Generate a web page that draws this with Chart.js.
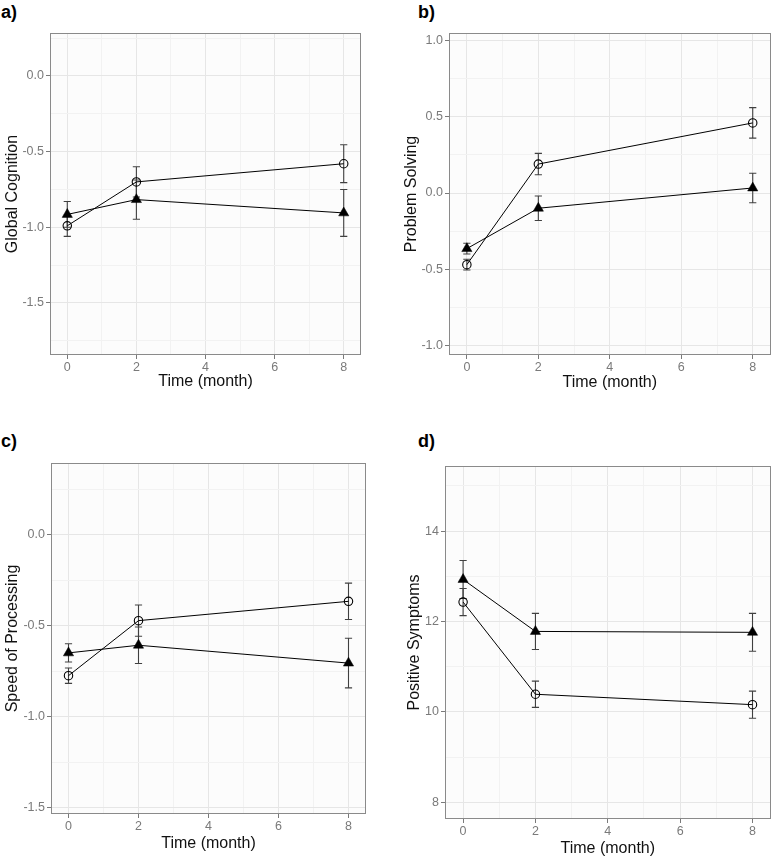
<!DOCTYPE html>
<html>
<head>
<meta charset="utf-8">
<script src="https://cdn.jsdelivr.net/npm/chart.js@4.4.1/dist/chart.umd.min.js"></script>
<style>
  html, body { margin: 0; padding: 0; background: #ffffff; }
  #wrap { position: relative; width: 777px; height: 858px; overflow: hidden; background: #ffffff; }
  canvas { position: absolute; }
  .lab { position: absolute; font-family: "Liberation Sans", Arial, sans-serif; font-weight: bold; font-size: 18px; line-height: 18px; color: #000; }
</style>
</head>
<body>
<div id="wrap">
  <div class="lab" style="left:1px; top:3px;">a)</div>
  <div class="lab" style="left:418px; top:3px;">b)</div>
  <div class="lab" style="left:1px; top:432px;">c)</div>
  <div class="lab" style="left:418px; top:432px;">d)</div>
  <canvas id="ca" width="390" height="410" style="left:0px; top:0px;"></canvas>
  <canvas id="cb" width="387" height="410" style="left:390px; top:0px;"></canvas>
  <canvas id="cc" width="390" height="438" style="left:0px; top:420px;"></canvas>
  <canvas id="cd" width="387" height="438" style="left:390px; top:420px;"></canvas>
</div>
<script>
// ---------- data ----------
const months = [0, 2, 8];
const xTicks = [0, 2, 4, 6, 8];
const xTitle = "Time (month)";

// a) Global Cognition
const globalCircleMean = [-0.99, -0.70, -0.58];
const globalCircleSE   = [0.07, 0.10, 0.125];
const globalTriMean    = [-0.915, -0.817, -0.905];
const globalTriSE      = [0.085, 0.13, 0.155];
const globalYTicks     = [-1.5, -1.0, -0.5, 0.0];

// b) Problem Solving
const problemCircleMean = [-0.47, 0.19, 0.46];
const problemCircleSE   = [0.035, 0.07, 0.10];
const problemTriMean    = [-0.365, -0.10, 0.033];
const problemTriSE      = [0.035, 0.08, 0.097];
const problemYTicks     = [-1.0, -0.5, 0.0, 0.5, 1.0];

// c) Speed of Processing
const speedCircleMean = [-0.774, -0.472, -0.366];
const speedCircleSE   = [0.042, 0.086, 0.10];
const speedTriMean    = [-0.649, -0.607, -0.705];
const speedTriSE      = [0.05, 0.10, 0.136];
const speedYTicks     = [-1.5, -1.0, -0.5, 0.0];

// d) Positive Symptoms
const symptomCircleMean = [12.43, 10.39, 10.16];
const symptomCircleSE   = [0.30, 0.29, 0.30];
const symptomTriMean    = [12.93, 11.78, 11.76];
const symptomTriSE      = [0.42, 0.40, 0.42];
const symptomYTicks     = [8, 10, 12, 14];

// ---------- helpers ----------
const FONT = '"Liberation Sans", Arial, sans-serif';
const toPts = (xs, ys) => xs.map((x, i) => ({x: x, y: ys[i]}));

function withMinors(majors, min, max) {
  const half = (majors[1] - majors[0]) / 2;
  const out = [];
  const start = Math.ceil((min - 1e-9) / half);
  const end = Math.floor((max + 1e-9) / half);
  for (let k = start; k <= end; k++) out.push(+(k * half).toFixed(6));
  return out;
}
function isIn(arr, v) { return arr.some(a => Math.abs(a - v) < 1e-6); }

const panelPlugin = {
  id: 'panelDecor',
  beforeDraw(chart) {
    const {ctx, chartArea: a} = chart;
    ctx.save();
    ctx.fillStyle = '#fcfcfc';
    ctx.fillRect(a.left, a.top, a.right - a.left, a.bottom - a.top);
    ctx.restore();
  },
  beforeDatasetsDraw(chart) {
    const {ctx, scales: {x, y}} = chart;
    ctx.save();
    ctx.strokeStyle = '#404040';
    ctx.lineWidth = 1.1;
    chart.data.datasets.forEach(ds => {
      ds.data.forEach((p, i) => {
        const e = ds.errors[i];
        const px = x.getPixelForValue(p.x);
        const y1 = y.getPixelForValue(p.y - e);
        const y2 = y.getPixelForValue(p.y + e);
        const w = 3.6;
        ctx.beginPath();
        ctx.moveTo(px, y1); ctx.lineTo(px, y2);
        ctx.moveTo(px - w, y1); ctx.lineTo(px + w, y1);
        ctx.moveTo(px - w, y2); ctx.lineTo(px + w, y2);
        ctx.stroke();
      });
    });
    ctx.restore();
  },
  afterDraw(chart) {
    const {ctx, chartArea: a} = chart;
    ctx.save();
    ctx.strokeStyle = '#8a8a8a';
    ctx.lineWidth = 1;
    ctx.strokeRect(Math.round(a.left) + 0.5, Math.round(a.top) + 0.5,
                   Math.round(a.right - a.left) - 1, Math.round(a.bottom - a.top) - 1);
    ctx.restore();
  }
};

function makePanel(id, cfg) {
  const c = cfg.canvas, ar = cfg.area;
  const yAll = withMinors(cfg.yTicks, cfg.yMin, cfg.yMax);
  const xAll = withMinors(xTicks, -0.5, 8.5);
  const gridColor = (majors) => (ctx) => (ctx.tick && isIn(majors, ctx.tick.value)) ? '#e6e6e6' : '#f2f2f2';
  const tickColor = (majors) => (ctx) => (ctx.tick && isIn(majors, ctx.tick.value)) ? '#7a7a7a' : 'rgba(0,0,0,0)';
  new Chart(document.getElementById(id), {
    type: 'line',
    data: {
      datasets: [
        {
          label: 'circle',
          data: toPts(months, cfg.circleMean),
          errors: cfg.circleSE,
          borderColor: '#000', borderWidth: 1, fill: false, tension: 0,
          pointStyle: 'circle', pointRadius: 4.2, pointBorderWidth: 1.1,
          pointBorderColor: '#000', pointBackgroundColor: 'rgba(0,0,0,0)'
        },
        {
          label: 'triangle',
          data: toPts(months, cfg.triMean),
          errors: cfg.triSE,
          borderColor: '#000', borderWidth: 1, fill: false, tension: 0,
          pointStyle: 'triangle', pointRadius: 5.9, pointBorderWidth: 0.5,
          pointBorderColor: '#000', pointBackgroundColor: '#000'
        }
      ]
    },
    options: {
      responsive: false, animation: false, devicePixelRatio: 1,
      layout: { padding: { left: 0, top: ar.t - c.top, right: c.left + c.w - ar.r, bottom: 0 } },
      plugins: { legend: { display: false }, tooltip: { enabled: false } },
      scales: {
        x: {
          type: 'linear', min: -0.5, max: 8.5,
          afterBuildTicks: s => { s.ticks = xAll.map(v => ({value: v})); },
          afterFit: s => { s.height = c.top + c.h - ar.b; },
          border: { display: false },
          grid: { color: gridColor(xTicks), lineWidth: 1, tickLength: 4, tickColor: tickColor(xTicks), drawTicks: true },
          ticks: {
            autoSkip: false, maxRotation: 0, padding: 1, color: '#7a7a7a',
            font: { family: FONT, size: 12.5 },
            callback: v => isIn(xTicks, v) ? String(Math.round(v)) : ''
          },
          title: { display: true, text: xTitle, color: '#111', font: { family: FONT, size: 16 },
                   padding: { top: 0, bottom: cfg.xTitlePad } }
        },
        y: {
          type: 'linear', min: cfg.yMin, max: cfg.yMax,
          afterBuildTicks: s => { s.ticks = yAll.map(v => ({value: v})); },
          afterFit: s => { s.width = ar.l - c.left; },
          border: { display: false },
          grid: { color: gridColor(cfg.yTicks), lineWidth: 1, tickLength: 4, tickColor: tickColor(cfg.yTicks), drawTicks: true },
          ticks: {
            autoSkip: false, padding: 2, color: '#7a7a7a',
            font: { family: FONT, size: 12.5 },
            callback: v => isIn(cfg.yTicks, v) ? v.toFixed(cfg.decimals) : ''
          },
          title: { display: true, text: cfg.yTitle, color: '#111', font: { family: FONT, size: 16 },
                   padding: { top: cfg.yTitlePad, bottom: 0 } }
        }
      }
    },
    plugins: [panelPlugin]
  });
}

makePanel('ca', {
  canvas: {left: 0, top: 0, w: 390, h: 410}, area: {l: 50, t: 33, r: 361, b: 355},
  yMin: -1.844, yMax: 0.284, yTicks: globalYTicks, decimals: 1,
  yTitle: 'Global Cognition', yTitlePad: 3, xTitlePad: 19,
  circleMean: globalCircleMean, circleSE: globalCircleSE, triMean: globalTriMean, triSE: globalTriSE
});
makePanel('cb', {
  canvas: {left: 390, top: 0, w: 387, h: 410}, area: {l: 449, t: 33, r: 774, b: 355},
  yMin: -1.063, yMax: 1.05, yTicks: problemYTicks, decimals: 1,
  yTitle: 'Problem Solving', yTitlePad: 12, xTitlePad: 18,
  circleMean: problemCircleMean, circleSE: problemCircleSE, triMean: problemTriMean, triSE: problemTriSE
});
makePanel('cc', {
  canvas: {left: 0, top: 420, w: 390, h: 438}, area: {l: 51, t: 463, r: 366, b: 814},
  yMin: -1.533, yMax: 0.393, yTicks: speedYTicks, decimals: 1,
  yTitle: 'Speed of Processing', yTitlePad: 3, xTitlePad: 5,
  circleMean: speedCircleMean, circleSE: speedCircleSE, triMean: speedTriMean, triSE: speedTriSE
});
makePanel('cd', {
  canvas: {left: 390, top: 420, w: 387, h: 438}, area: {l: 445, t: 466, r: 776, b: 819},
  yMin: 7.63, yMax: 15.44, yTicks: symptomYTicks, decimals: 0,
  yTitle: 'Positive Symptoms', yTitlePad: 15, xTitlePad: 0,
  circleMean: symptomCircleMean, circleSE: symptomCircleSE, triMean: symptomTriMean, triSE: symptomTriSE
});
</script>
</body>
</html>
